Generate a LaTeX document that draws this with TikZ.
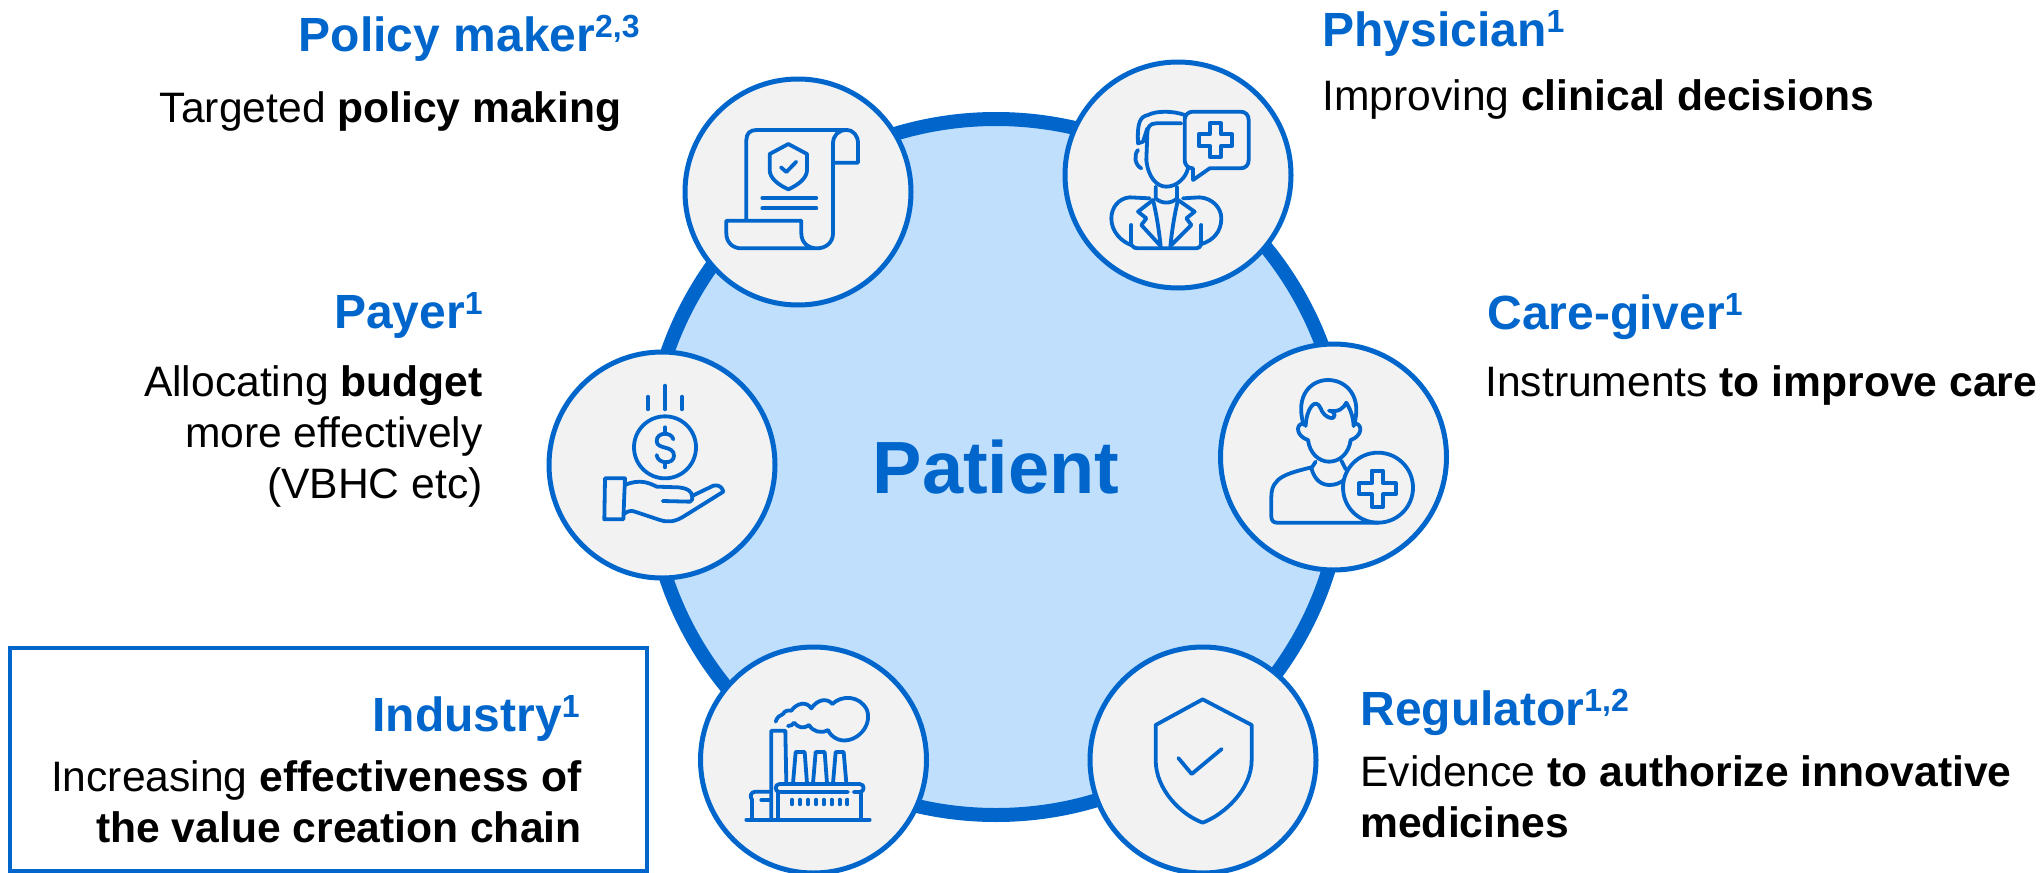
\documentclass[tikz,border=0pt]{standalone}
\usepackage{fontspec}
\setmainfont{Liberation Sans}
\definecolor{rolablue}{HTML}{0066CC}
\definecolor{patientfill}{HTML}{BFDFFD}
\definecolor{rolefill}{HTML}{F2F2F2}
\newcommand{\rolesup}[1]{\raisebox{6.6pt}{\fontsize{16}{16}\selectfont #1}}
\begin{document}
\begin{tikzpicture}[x=.5pt,y=-.5pt,
    patient/.style={circle,draw=rolablue,fill=patientfill,line width=7pt,minimum size=348pt,inner sep=0pt,text=rolablue,font=\fontsize{37}{44}\selectfont\bfseries},
    role/.style={circle,draw=rolablue,fill=rolefill,line width=2.5pt,minimum size=113pt,inner sep=0pt},
    head/.style={inner sep=0pt,text=rolablue,font=\fontsize{24}{29}\selectfont\bfseries},
    body/.style={inner sep=0pt,font=\fontsize{21.3}{25.5}\selectfont},
    icon/.style={draw=rolablue,line width=1.9pt,line cap=round,line join=round,x=.16667pt,y=-.16667pt}]
  \useasboundingbox (0,0) rectangle (2041,873);
  \node[patient] (patient) at (996,467) {Patient};
  \node[role] (policy) at (798,192) {};
  \node[role] (physician) at (1178,175) {};
  \node[role] (caregiver) at (1333.5,457) {};
  \node[role] (payer) at (662,465) {};
  \node[role] (industry) at (813.5,760) {};
  \node[role] (regulator) at (1203,760) {};
  \node[draw=rolablue,line width=2pt,minimum width=318.5pt,minimum height=111.5pt,inner sep=0pt] (industrybox) at (328.5,759.5) {};

  \node[head,anchor=base east] (policyhead) at (640,51) {Policy maker\rolesup{2,3}};
  \node[body,anchor=base east] (policytext) at (622,122) {Targeted \textbf{policy making}};
  \node[head,anchor=base west] (physicianhead) at (1322,46) {Physician\rolesup{1}};
  \node[body,anchor=base west] (physiciantext) at (1322,110) {Improving \textbf{clinical decisions}};
  \node[head,anchor=base west] (caregiverhead) at (1487,329) {Care-giver\rolesup{1}};
  \node[body,anchor=base west] (caregivertext) at (1485,396) {Instruments \textbf{to improve care}};
  \node[head,anchor=base east] (payerhead) at (483,328) {Payer\rolesup{1}};
  \node[body,anchor=base east,align=right] (payertext) at (483,498) {Allocating \textbf{budget}\\more effectively\\(VBHC etc)};
  \node[head,anchor=base east] (industryhead) at (580,731) {Industry\rolesup{1}};
  \node[body,anchor=base east,align=right] (industrytext) at (582,842) {Increasing \textbf{effectiveness of}\\\textbf{the value creation chain}};
  \node[head,anchor=base west] (regulatorhead) at (1360,725) {Regulator\rolesup{1,2}};
  \node[body,anchor=base west,align=left] (regulatortext) at (1360,837) {Evidence \textbf{to authorize innovative}\\\textbf{medicines}};

  \begin{scope}[shift={(policy.center)},icon,shift={(-385,-336)}]
    \draw (230,420) -- (230,180) .. controls (230,160) and (242,150) .. (260,150) -- (530,150) .. controls (552,150) and (565,168) .. (565,190) -- (565,248) -- (490,248);
    \draw (530,150) .. controls (505,150) and (490,168) .. (490,190) -- (490,460) .. controls (490,488) and (468,505) .. (442,505) .. controls (415,505) and (395,488) .. (395,460) -- (395,422) -- (170,422) -- (170,460) .. controls (170,488) and (190,505) .. (215,505) -- (442,505);
    \draw (356,192) -- (412,222) -- (412,270) .. controls (412,295) and (385,315) .. (356,328) .. controls (327,315) and (300,295) .. (300,270) -- (300,222) -- cycle;
    \draw (334,262) -- (350,276) -- (380,245);
    \draw (278,354) -- (440,354);
    \draw (278,385) -- (440,385);
  \end{scope}

  \begin{scope}[shift={(physician.center)},icon,shift={(-385,-315)}]
    \draw (430,295) -- (430,330) -- (480,295) -- (572,295) .. controls (588,295) and (597,285) .. (597,270) -- (597,150) .. controls (597,135) and (588,125) .. (572,125) -- (430,125) .. controls (415,125) and (405,135) .. (405,150) -- (405,270) .. controls (405,285) and (415,295) .. (430,295);
    \draw (480,160) -- (514,160) -- (514,193) -- (547,193) -- (547,227) -- (514,227) -- (514,260) -- (480,260) -- (480,227) -- (447,227) -- (447,193) -- (480,193) -- cycle;
    \draw (395,160) -- (320,160) .. controls (300,160) and (293,172) .. (293,190) -- (290,270) .. controls (295,320) and (320,350) .. (350,350) .. controls (380,350) and (408,325) .. (415,295);
    \draw (405,135) .. controls (370,122) and (320,122) .. (295,135) .. controls (272,140) and (262,155) .. (265,220) -- (280,215) -- (293,175);
    \draw (265,240) .. controls (252,255) and (255,285) .. (275,295);
    \draw (318,350) -- (318,385) .. controls (335,402) and (365,402) .. (382,385) -- (382,350);
    \draw (300,385) -- (240,382) .. controls (205,385) and (185,415) .. (185,445) .. controls (185,485) and (215,515) .. (245,525) .. controls (250,533) and (258,535) .. (265,535) -- (440,535) .. controls (447,535) and (453,530) .. (455,522) .. controls (490,512) and (515,485) .. (515,445) .. controls (515,415) and (490,385) .. (450,382) -- (400,385);
    \draw (245,465) -- (245,525);
    \draw (455,465) -- (455,522);
    \draw (310,390) -- (265,425) -- (290,445) -- (275,465) -- (330,525);
    \draw (310,390) .. controls (320,430) and (328,480) .. (333,530);
    \draw (385,390) -- (435,425) -- (410,445) -- (425,465) -- (365,525);
    \draw (385,390) .. controls (375,430) and (367,480) .. (362,530);
  \end{scope}

  \begin{scope}[shift={(caregiver.center)},icon,shift={(-371.5,-351)}]
    \draw (282,255) .. controls (255,165) and (305,120) .. (355,120) .. controls (410,120) and (460,170) .. (432,258);
    \draw (288,258) .. controls (290,205) and (318,170) .. (333,205) .. controls (345,238) and (378,240) .. (375,225) .. controls (372,212) and (358,212) .. (358,212) .. controls (385,218) and (402,205) .. (410,188) .. controls (420,205) and (430,225) .. (432,258);
    \draw (280,250) .. controls (255,255) and (262,290) .. (295,300) .. controls (300,340) and (328,365) .. (358,365) .. controls (390,365) and (418,340) .. (423,300) .. controls (455,290) and (462,255) .. (437,250);
    \draw (318,365) -- (305,385) .. controls (315,420) and (335,435) .. (360,435) .. controls (375,435) and (390,430) .. (403,420);
    \draw (395,362) -- (408,388);
    \draw (305,382) .. controls (235,400) and (185,410) .. (185,470) -- (185,530) .. controls (185,542) and (192,548) .. (202,548) -- (505,548);
    \draw (505,443) circle[radius=105];
    \draw (486,392) -- (520,392) -- (520,430) -- (558,430) -- (558,463) -- (520,463) -- (520,501) -- (486,501) -- (486,463) -- (448,463) -- (448,430) -- (486,430) -- cycle;
  \end{scope}

  \begin{scope}[shift={(payer.center)},icon,shift={(-366,-285)}]
    \draw (324,80) -- (324,118);
    \draw (375,47) -- (375,118);
    \draw (426,80) -- (426,118);
    \draw (375,232) circle[radius=93];
    \draw (400,208) .. controls (395,185) and (350,185) .. (350,213) .. controls (350,240) and (402,225) .. (402,257) .. controls (402,285) and (352,282) .. (350,255);
    \draw (375,172) -- (375,188);
    \draw (375,278) -- (375,292);
    \draw (195,325) -- (255,325) -- (250,448) -- (193,448) -- cycle;
    \draw (255,345) .. controls (300,325) and (330,340) .. (350,350) -- (415,352) .. controls (445,355) and (455,365) .. (456,378) -- (520,347) .. controls (538,342) and (548,355) .. (550,365) -- (430,440) .. controls (405,455) and (385,458) .. (360,450) -- (285,425) .. controls (272,420) and (262,424) .. (252,432);
    \draw (368,393) -- (450,395) .. controls (456,392) and (458,388) .. (456,378);
  \end{scope}

  \begin{scope}[shift={(industry.center)},icon,shift={(-371.5,-360)}]
    \draw (170,539) -- (540,539);
    \draw (245,539) -- (245,272) -- (287,272) -- (290,430);
    \draw (265,539) -- (265,456);
    \draw (475,456) -- (270,456) .. controls (262,456) and (258,450) .. (258,444) .. controls (258,438) and (262,432) .. (270,432) -- (510,432) .. controls (518,432) and (522,438) .. (522,444) .. controls (522,450) and (518,456) .. (510,456) -- (492,456);
    \draw (515,456) -- (515,539);
    \draw (310,430) -- (318,336) -- (345,336) -- (352,430);
    \draw (370,430) -- (378,336) -- (405,336) -- (412,430);
    \draw (430,430) -- (438,336) -- (462,336) -- (470,430);
    \foreach \winx in {307,331,355,379,402,426,450,473}
      \draw (\winx,479) -- (\winx,493);
    \draw (187,539) -- (187,479) .. controls (180,470) and (182,456) .. (197,455) -- (243,455);
    \draw (243,480) -- (215,480);
    \draw (258,245) .. controls (262,232) and (270,225) .. (280,222) .. controls (285,212) and (295,210) .. (305,212) .. controls (320,190) and (350,182) .. (365,205) .. controls (385,175) and (415,175) .. (428,192) .. controls (455,165) and (510,165) .. (532,210) .. controls (550,265) and (490,315) .. (445,298) .. controls (430,292) and (420,282) .. (415,270) .. controls (395,282) and (370,275) .. (358,255) .. controls (340,268) and (325,262) .. (313,248) .. controls (310,255) and (302,258) .. (295,258);
  \end{scope}

  \begin{scope}[shift={(regulator.center)},icon,shift={(-369,-360)}]
    \draw (368,178) -- (515,255) -- (515,360) .. controls (515,450) and (430,525) .. (368,548) .. controls (305,525) and (227,450) .. (227,360) -- (227,255) -- cycle;
    \draw (295,354) -- (335,402) -- (425,327);
  \end{scope}
\end{tikzpicture}
\end{document}
